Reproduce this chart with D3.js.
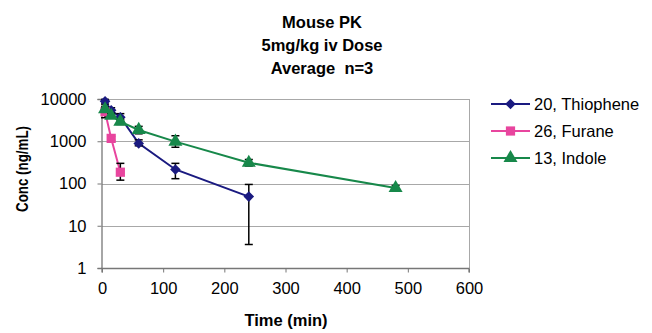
<!DOCTYPE html>
<html>
<head>
<meta charset="utf-8">
<script src="https://d3js.org/d3.v7.min.js"></script>
<style>
  body { margin: 0; background: #fff; }
  text { font-family: "Liberation Sans", Arial, sans-serif; fill: #000; }
</style>
</head>
<body>
<div id="chart"></div>
<script>
// data
var titleLines = ["Mouse PK", "5mg/kg iv Dose", "Average  n=3"];
var seriesNames = ["20, Thiophene", "26, Furane", "13, Indole"];
var seriesColors = ["#1a1a80", "#e8459e", "#17884a"];
var seriesSymbols = ["diamond", "square", "triangle"];

var thiopheneTime = [5, 15, 30, 60, 120, 240];
var thiopheneConc = [8800, 5400, 3700, 890, 215, 49];
var thiopheneLow = [7600, 4600, 3000, 780, 130, 3.6];
var thiopheneHigh = [9800, 6200, 4500, 1080, 300, 95];

var furaneTime = [5, 15, 30];
var furaneConc = [5000, 1170, 185];
var furaneLow = [3600, 1050, 120];
var furaneHigh = [6000, 1300, 300];

var indoleTime = [5, 15, 30, 60, 120, 240, 480];
var indoleConc = [5700, 4000, 2900, 1850, 980, 310, 78];
var indoleLow = [5000, 3500, 2500, 1500, 720, 260, 68];
var indoleHigh = [6500, 4500, 3300, 2250, 1350, 370, 90];

var xTicks = [0, 100, 200, 300, 400, 500, 600];
var yTicks = [1, 10, 100, 1000, 10000];

var series = [
  {time: thiopheneTime, conc: thiopheneConc, lo: thiopheneLow, hi: thiopheneHigh},
  {time: furaneTime, conc: furaneConc, lo: furaneLow, hi: furaneHigh},
  {time: indoleTime, conc: indoleConc, lo: indoleLow, hi: indoleHigh}
];

var W = 652, H = 333;
var plotL = 102, plotR = 469, plotT = 99, plotB = 268;
var fontSz = "16.5px";

var svg = d3.select("#chart").append("svg")
  .attr("width", W).attr("height", H);

var x = d3.scaleLinear().domain([0, 600]).range([plotL, plotR]);
var y = d3.scaleLog().domain([1, 10000]).range([plotB, plotT]);

// title
svg.append("g").selectAll("text")
  .data(titleLines).enter().append("text")
  .attr("x", 322).attr("y", function(d, i) { return 28 + i * 23; })
  .attr("text-anchor", "middle")
  .style("font-size", "16.5px").style("font-weight", "bold")
  .style("white-space", "pre")
  .text(function(d) { return d; });

// gridlines
svg.append("g").selectAll("line")
  .data(yTicks.slice(1)).enter().append("line")
  .attr("x1", plotL).attr("x2", plotR)
  .attr("y1", function(d) { return Math.round(y(d)) + 0.5; })
  .attr("y2", function(d) { return Math.round(y(d)) + 0.5; })
  .attr("stroke", "#a8a8a8").attr("stroke-width", 1);

// plot border (right side)
svg.append("line")
  .attr("x1", plotR + 0.5).attr("x2", plotR + 0.5)
  .attr("y1", plotT).attr("y2", plotB)
  .attr("stroke", "#a8a8a8");

// axes
var xAxis = svg.append("g")
  .attr("transform", "translate(0," + (plotB + 0.5) + ")")
  .call(d3.axisBottom(x).tickValues(xTicks).tickSize(4).tickPadding(10));
var yAxis = svg.append("g")
  .attr("transform", "translate(" + (plotL - 0.5) + ",0)")
  .call(d3.axisLeft(y).tickValues(yTicks).tickFormat(d3.format("d")).tickSize(4).tickPadding(11));

[xAxis, yAxis].forEach(function(a) {
  a.select(".domain").attr("stroke", "#777").attr("stroke-width", 1.3);
  a.selectAll(".tick line").attr("stroke", "#777");
  a.selectAll(".tick text")
    .style("font-family", "'Liberation Sans', Arial, sans-serif")
    .style("font-size", fontSz).attr("fill", "#000");
});
xAxis.select(".domain").attr("d", "M" + plotL + ",4V0H" + plotR + "V4");

// axis titles
svg.append("text")
  .attr("x", 286).attr("y", 326)
  .attr("text-anchor", "middle")
  .style("font-size", fontSz).style("font-weight", "bold")
  .text("Time (min)");
svg.append("text")
  .attr("transform", "translate(28,169) rotate(-90)")
  .attr("text-anchor", "middle")
  .attr("textLength", 86).attr("lengthAdjust", "spacingAndGlyphs")
  .style("font-size", "17px").style("font-weight", "bold")
  .text("Conc (ng/mL)");

// excel-like markers: diamond is a square turned 45 degrees
function marker(kind) {
  if (kind === "diamond") return d3.symbol().type(d3.symbolSquare).size(56)();
  if (kind === "square") return d3.symbol().type(d3.symbolSquare).size(85)();
  return d3.symbol().type(d3.symbolTriangle).size(85)();
}
function markerRot(kind) { return kind === "diamond" ? " rotate(45)" : ""; }

var line = d3.line()
  .x(function(d) { return x(d[0]); })
  .y(function(d) { return y(d[1]); });

// lines, error bars, markers per series
series.forEach(function(s, k) {
  var pts = s.time.map(function(t, i) { return [t, s.conc[i], s.lo[i], s.hi[i]]; });
  var g = svg.append("g");

  g.append("path")
    .attr("d", line(pts))
    .attr("fill", "none")
    .attr("stroke", seriesColors[k])
    .attr("stroke-width", 2);

  var eb = g.selectAll(".err").data(pts).enter().append("g");
  eb.append("line")
    .attr("x1", function(d) { return x(d[0]); })
    .attr("x2", function(d) { return x(d[0]); })
    .attr("y1", function(d) { return y(d[2]); })
    .attr("y2", function(d) { return y(d[3]); })
    .attr("stroke", "#000").attr("stroke-width", 1.5);
  eb.selectAll(".cap").data(function(d) { return [[d[0], d[2]], [d[0], d[3]]]; })
    .enter().append("line")
    .attr("x1", function(d) { return x(d[0]) - 4; })
    .attr("x2", function(d) { return x(d[0]) + 4; })
    .attr("y1", function(d) { return y(d[1]); })
    .attr("y2", function(d) { return y(d[1]); })
    .attr("stroke", "#000").attr("stroke-width", 1.5);

  g.selectAll(".mk").data(pts).enter().append("path")
    .attr("transform", function(d) {
      return "translate(" + x(d[0]) + "," + y(d[1]) + ")" + markerRot(seriesSymbols[k]);
    })
    .attr("d", marker(seriesSymbols[k]))
    .attr("fill", seriesColors[k]);
});

// legend
var legend = svg.append("g").selectAll("g")
  .data(seriesNames).enter().append("g")
  .attr("transform", function(d, i) { return "translate(491," + (104 + i * 27) + ")"; });
legend.append("line")
  .attr("x1", 0).attr("x2", 39)
  .attr("stroke", function(d, i) { return seriesColors[i]; })
  .attr("stroke-width", 2);
legend.append("path")
  .attr("transform", function(d, i) { return "translate(19.5,0)" + markerRot(seriesSymbols[i]); })
  .attr("d", function(d, i) { return marker(seriesSymbols[i]); })
  .attr("fill", function(d, i) { return seriesColors[i]; });
legend.append("text")
  .attr("x", 43).attr("y", 6)
  .style("font-size", fontSz)
  .text(function(d) { return d; });
</script>
</body>
</html>
